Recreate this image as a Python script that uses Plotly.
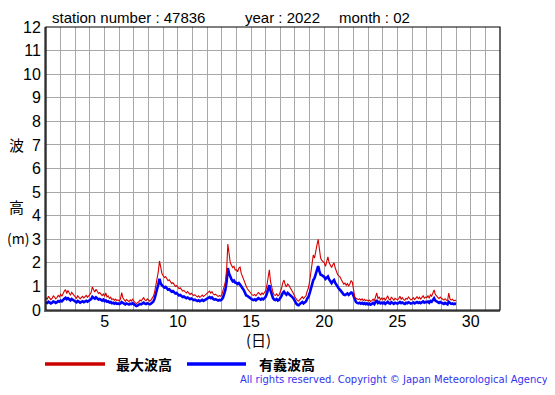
import plotly.graph_objects as go

# time axis: day of month, 2-hour steps starting at day 1 00:00
start_day = 1.0
step_hours = 2

# 最大波高 (m), 12 readings per day, days 1..28, plus 29 00:00
max_wave = [
    0.50, 0.46, 0.58, 0.52, 0.44, 0.49, 0.60, 0.55, 0.47, 0.53, 0.62, 0.56,
    0.66, 0.58, 0.72, 0.80, 0.86, 0.70, 0.83, 0.69, 0.62, 0.75, 0.67, 0.60,
    0.56, 0.50, 0.60, 0.54, 0.47, 0.53, 0.58, 0.51, 0.56, 0.62, 0.54, 0.59,
    0.66, 0.75, 0.98, 0.86, 0.76, 0.88, 0.80, 0.70, 0.74, 0.66, 0.61, 0.68,
    0.58, 0.72, 0.55, 0.60, 0.49, 0.54, 0.44, 0.48, 0.41, 0.46, 0.40, 0.43,
    0.38, 0.46, 0.74, 0.52, 0.42, 0.37, 0.44, 0.40, 0.35, 0.43, 0.38, 0.46,
    0.37, 0.31, 0.27, 0.30, 0.35, 0.42, 0.38, 0.46, 0.52, 0.43, 0.39, 0.47,
    0.40, 0.37, 0.42, 0.48, 0.58, 0.76, 1.02, 1.38, 1.62, 2.08, 1.70, 1.55,
    1.45, 1.38, 1.42, 1.30, 1.24, 1.28, 1.18, 1.12, 1.16, 1.06, 1.00, 1.04,
    0.96, 0.90, 0.94, 0.84, 0.80, 0.83, 0.76, 0.72, 0.78, 0.70, 0.66, 0.71,
    0.66, 0.61, 0.65, 0.58, 0.55, 0.60, 0.54, 0.58, 0.63, 0.57, 0.62, 0.66,
    0.70, 0.76, 0.80, 0.72, 0.78, 0.68, 0.64, 0.67, 0.60, 0.57, 0.62, 0.58,
    0.64, 0.78, 1.00, 1.20, 1.70, 2.80, 2.30, 2.00, 1.90, 1.80, 1.85, 1.70,
    1.70, 1.62, 1.78, 1.82, 1.55, 1.40, 1.30, 1.12, 1.02, 0.90, 0.82, 0.76,
    0.70, 0.64, 0.62, 0.66, 0.60, 0.68, 0.74, 0.69, 0.64, 0.72, 0.66, 0.74,
    0.82, 1.05, 1.35, 1.70, 1.20, 0.95, 0.74, 0.64, 0.62, 0.68, 0.60, 0.64,
    0.75, 0.92, 1.15, 1.27, 1.08, 0.98, 1.10, 1.05, 0.95, 0.86, 0.80, 0.68,
    0.55, 0.44, 0.40, 0.38, 0.44, 0.50, 0.56, 0.48, 0.54, 0.60, 0.80, 0.93,
    1.20, 1.55, 1.90, 2.33, 2.20, 2.55, 2.75, 3.00, 2.60, 2.20, 2.10, 2.05,
    2.00, 1.85, 2.10, 2.25, 2.00, 1.88, 1.80, 1.92, 2.00, 1.78, 1.60, 1.50,
    1.45, 1.40, 1.28, 1.18, 1.10, 1.14, 1.05, 1.12, 1.02, 1.10, 1.25, 1.18,
    0.90, 0.55, 0.50, 0.46, 0.44, 0.48, 0.42, 0.47, 0.40, 0.45, 0.39, 0.43,
    0.38, 0.42, 0.36, 0.40, 0.46, 0.39, 0.60, 0.72, 0.48, 0.56, 0.44, 0.50,
    0.44, 0.52, 0.40, 0.48, 0.60, 0.46, 0.42, 0.55, 0.48, 0.41, 0.50, 0.45,
    0.43, 0.48, 0.58, 0.46, 0.52, 0.44, 0.41, 0.50, 0.46, 0.55, 0.48, 0.42,
    0.46, 0.52, 0.44, 0.50, 0.56, 0.48, 0.54, 0.46, 0.52, 0.60, 0.50, 0.55,
    0.53, 0.60, 0.50, 0.64, 0.58, 0.70, 0.85, 0.66, 0.58, 0.54, 0.48, 0.55,
    0.50, 0.45, 0.42, 0.48, 0.43, 0.38, 0.72, 0.47, 0.42, 0.46, 0.40, 0.42,
    0.41,
]

# 有義波高 (m)
sig_wave = [
    0.32, 0.30, 0.35, 0.33, 0.28, 0.31, 0.36, 0.34, 0.30, 0.33, 0.38, 0.35,
    0.40, 0.37, 0.45, 0.48, 0.52, 0.46, 0.50, 0.44, 0.41, 0.47, 0.43, 0.39,
    0.36, 0.33, 0.38, 0.35, 0.31, 0.34, 0.37, 0.33, 0.36, 0.39, 0.35, 0.38,
    0.42, 0.46, 0.56, 0.52, 0.48, 0.54, 0.50, 0.45, 0.47, 0.43, 0.40, 0.44,
    0.38, 0.41, 0.35, 0.37, 0.32, 0.34, 0.29, 0.31, 0.27, 0.30, 0.26, 0.28,
    0.25, 0.28, 0.34, 0.30, 0.27, 0.24, 0.28, 0.26, 0.23, 0.27, 0.25, 0.29,
    0.24, 0.20, 0.17, 0.19, 0.22, 0.26, 0.24, 0.28, 0.31, 0.27, 0.25, 0.29,
    0.26, 0.24, 0.27, 0.30, 0.36, 0.48, 0.66, 0.88, 1.08, 1.32, 1.12, 1.05,
    1.00, 0.95, 0.98, 0.90, 0.86, 0.88, 0.82, 0.78, 0.80, 0.74, 0.70, 0.72,
    0.66, 0.62, 0.64, 0.58, 0.55, 0.57, 0.52, 0.50, 0.53, 0.48, 0.46, 0.49,
    0.45, 0.42, 0.44, 0.40, 0.38, 0.41, 0.37, 0.40, 0.43, 0.39, 0.42, 0.45,
    0.48, 0.52, 0.55, 0.50, 0.53, 0.47, 0.44, 0.46, 0.42, 0.40, 0.43, 0.41,
    0.44, 0.52, 0.68, 0.86, 1.20, 1.78, 1.55, 1.40, 1.30, 1.22, 1.25, 1.16,
    1.15, 1.10, 1.14, 1.08, 1.02, 0.92, 0.85, 0.76, 0.62, 0.60, 0.55, 0.52,
    0.48, 0.44, 0.42, 0.45, 0.41, 0.46, 0.50, 0.47, 0.44, 0.48, 0.45, 0.50,
    0.56, 0.70, 0.88, 1.05, 0.82, 0.65, 0.50, 0.44, 0.42, 0.46, 0.40, 0.43,
    0.50, 0.60, 0.72, 0.78, 0.70, 0.65, 0.72, 0.68, 0.63, 0.58, 0.54, 0.47,
    0.36, 0.28, 0.22, 0.20, 0.26, 0.30, 0.34, 0.28, 0.32, 0.36, 0.48, 0.55,
    0.70, 0.90, 1.08, 1.27, 1.35, 1.50, 1.65, 1.86, 1.65, 1.50, 1.48, 1.45,
    1.40, 1.32, 1.36, 1.42, 1.30, 1.20, 1.14, 1.22, 1.27, 1.15, 1.05, 0.98,
    0.90, 0.85, 0.78, 0.70, 0.65, 0.63, 0.66, 0.70, 0.64, 0.68, 0.74, 0.72,
    0.60, 0.42, 0.34, 0.30, 0.28, 0.31, 0.27, 0.30, 0.26, 0.29, 0.25, 0.28,
    0.24, 0.27, 0.23, 0.26, 0.30, 0.25, 0.36, 0.42, 0.30, 0.34, 0.28, 0.31,
    0.28, 0.32, 0.26, 0.30, 0.35, 0.29, 0.27, 0.33, 0.30, 0.26, 0.31, 0.28,
    0.27, 0.30, 0.34, 0.29, 0.32, 0.28, 0.26, 0.31, 0.29, 0.33, 0.30, 0.27,
    0.29, 0.32, 0.28, 0.31, 0.34, 0.30, 0.33, 0.29, 0.32, 0.36, 0.31, 0.34,
    0.33, 0.36, 0.31, 0.38, 0.35, 0.42, 0.50, 0.40, 0.36, 0.33, 0.30, 0.34,
    0.31, 0.28, 0.26, 0.30, 0.27, 0.24, 0.35, 0.29, 0.26, 0.28, 0.25, 0.27,
    0.26,
]

x_tick_vals = list(range(1, 33))
x_tick_text = [str(v) if v % 5 == 0 else "" for v in x_tick_vals]
y_tick_vals = list(range(0, 13))
y_tick_text = [str(v) for v in y_tick_vals]

legend_names = ["最大波高", "有義波高"]
title_parts = ["station number : 47836", "year : 2022", "month : 02"]
y_label_parts = ["波", "高", "(m)"]
copyright_text = "All rights reserved. Copyright © Japan Meteorological Agency"

days = [start_day + i * step_hours / 24 for i in range(len(sig_wave))]

# page body has an 8px margin; the figure is sized/offset to compensate
OFF = 8
W, H = 555 - OFF, 395 - 2 * OFF
PL, PR, PT, PB = 46, 500, 27, 310          # plot box in window pixels
L, T = PL - OFF, PT - OFF
R = W - (PR - OFF)
B = H - (PB - OFF)
pw, ph = W - L - R, H - T - B

def px(xw):
    return (xw - OFF - L) / pw

def py(yw):
    return (H - B - (yw - OFF)) / ph

RED = "#d40000"
BLUE = "#0000ff"

fig = go.Figure()
fig.add_trace(go.Scatter(x=days, y=sig_wave, mode="lines", name=legend_names[1],
                         line=dict(color=BLUE, width=2.6), showlegend=False))
fig.add_trace(go.Scatter(x=days, y=max_wave, mode="lines", name=legend_names[0],
                         line=dict(color=RED, width=1.1), showlegend=False))

font_main = "Liberation Sans, Arial, sans-serif"
font_cjk = "Noto Sans CJK JP, sans-serif"

fig.update_layout(
    width=W, height=H,
    margin=dict(l=L, r=R, t=T, b=B, pad=0),
    paper_bgcolor="white", plot_bgcolor="white",
    font=dict(family=font_main, size=14, color="black"),
    xaxis=dict(range=[1, 32], tickmode="array", tickvals=x_tick_vals, ticktext=x_tick_text,
               showgrid=True, gridcolor="#a8a8a8", gridwidth=1, zeroline=False,
               showline=True, linecolor="#666666", linewidth=2, ticks="",
               ticklabelstandoff=-4,
               tickfont=dict(size=16, family=font_main), fixedrange=True),
    yaxis=dict(range=[0, 12], tickmode="array", tickvals=y_tick_vals, ticktext=y_tick_text,
               showgrid=True, gridcolor="#a8a8a8", gridwidth=1, zeroline=False,
               showline=True, linecolor="#777777", linewidth=2, ticks="",
               ticklabelstandoff=0,
               tickfont=dict(size=16, family=font_main), fixedrange=True),
    showlegend=False,
)

# frame (top/right)
fig.add_shape(type="rect", xref="paper", yref="paper", x0=0, x1=1, y0=0, y1=1,
              line=dict(color="black", width=1.2), layer="above")

# title pieces
for text, xw in zip(title_parts, [51, 244, 338]):
    fig.add_annotation(text=text, xref="paper", yref="paper", x=px(xw), y=py(8),
                       xanchor="left", yanchor="top", showarrow=False, borderpad=0,
                       font=dict(size=15, family=font_main))

# y-axis label pieces
for text, xw, yw, fs in zip(y_label_parts, [16, 16, 18], [144, 206, 238], [15, 15, 14]):
    fig.add_annotation(text=text, xref="paper", yref="paper", x=px(xw), y=py(yw),
                       xanchor="center", yanchor="middle", showarrow=False, borderpad=0,
                       font=dict(size=fs, family=font_cjk))

# x-axis label
fig.add_annotation(text="(日)", xref="paper", yref="paper", x=px(258), y=py(339),
                   xanchor="center", yanchor="middle", showarrow=False,
                   font=dict(size=15, family=font_cjk))

# legend
for (x0, x1, col), (txt, tx) in zip([(45, 105, "#cc0000"), (187, 246, BLUE)],
                                    [(legend_names[0], 114), (legend_names[1], 257)]):
    fig.add_shape(type="line", xref="paper", yref="paper", x0=px(x0), x1=px(x1),
                  y0=py(364), y1=py(364), line=dict(color=col, width=3.5))
    fig.add_annotation(text="<b>" + txt + "</b>", xref="paper", yref="paper", x=px(tx),
                       y=py(364), xanchor="left", yanchor="middle", showarrow=False,
                       font=dict(size=14, family=font_cjk))

# copyright
fig.add_annotation(text=copyright_text, xref="paper", yref="paper", x=px(550), y=py(387),
                   xanchor="right", yanchor="bottom", showarrow=False,
                   font=dict(size=10, family="DejaVu Sans, sans-serif", color="#3333ee"))

fig.write_html("out.html")
